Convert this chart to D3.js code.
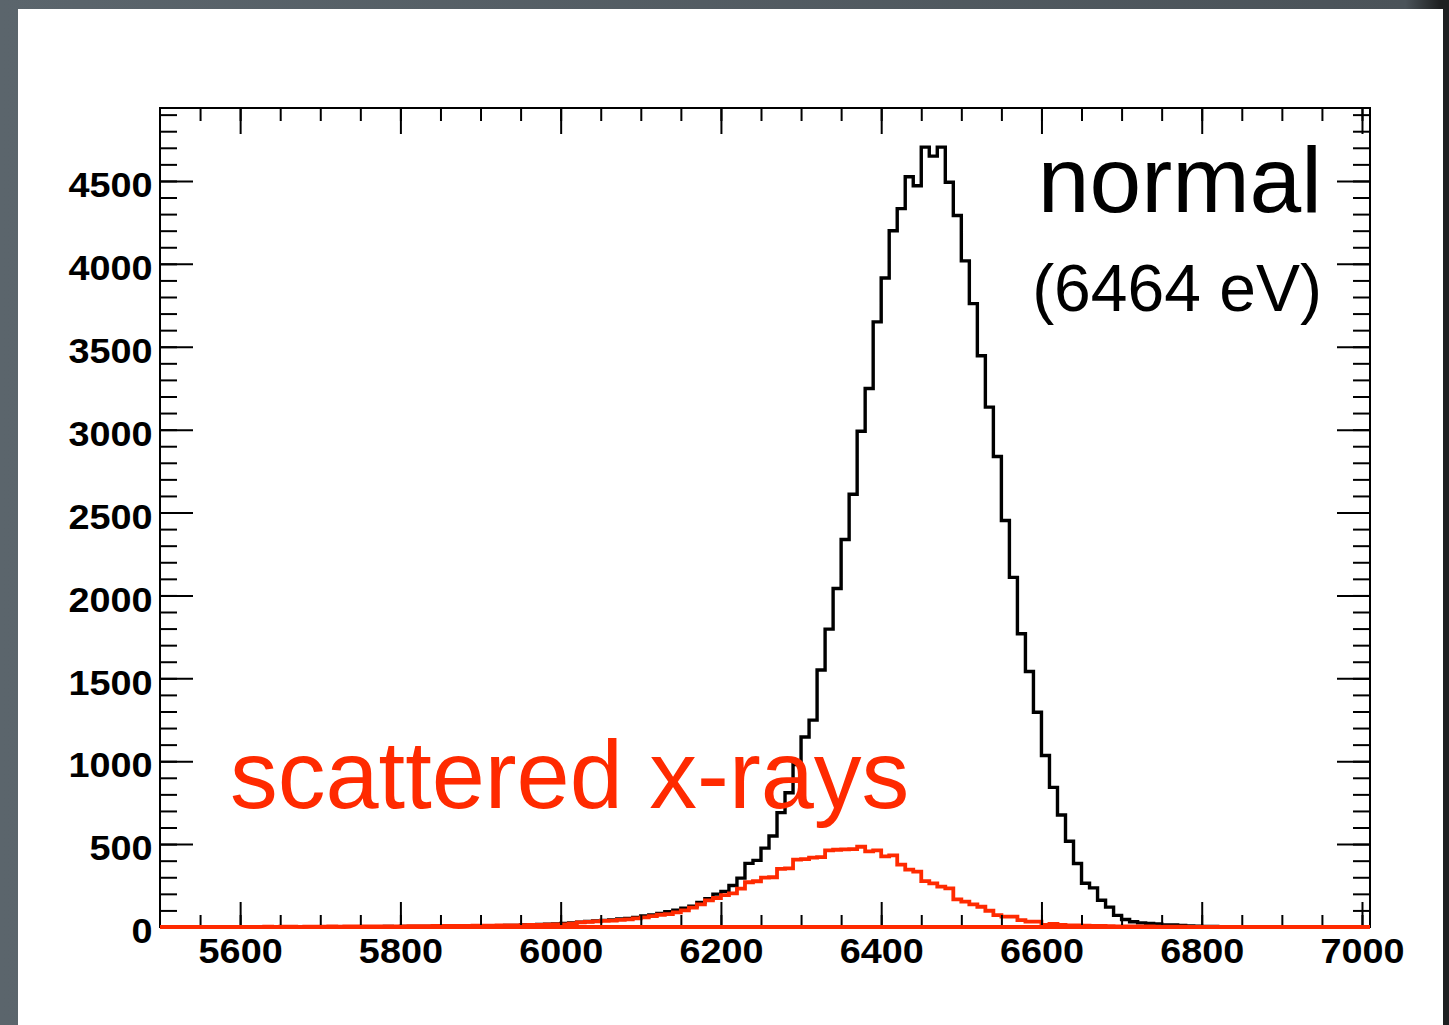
<!DOCTYPE html>
<html>
<head>
<meta charset="utf-8">
<script src="https://cdn.jsdelivr.net/npm/d3@7"></script>
<style>
body { margin: 0; }
svg { display: block; }
</style>
</head>
<body>
<svg width="1449" height="1025"></svg>
<script>
// energy bins: 10 eV wide, from 5500 eV
var binLow = 5500;
var binWidth = 10;

// counts per bin (bins 5500 ... 7000)
var normalCounts = [
    0,0,0,0,0,0,0,0,0,0,
    0,0,0,1,0,0,1,0,1,1,
    1,1,1,2,1,2,2,2,3,2,
    3,3,4,3,4,5,4,5,6,6,
    7,8,8,10,10,12,13,15,17,19,
    21,24,29,33,36,40,42,48,52,58,
    66,72,82,92,102,113,125,148,170,198,
    215,250,295,384,402,476,549,690,810,980,
    1146,1248,1550,1797,2042,2337,2610,2990,3248,3650,
    3915,4200,4333,4525,4471,4704,4650,4704,4492,4292,
    4018,3760,3446,3136,2838,2452,2109,1769,1541,1295,
    1034,842,676,517,383,264,236,161,120,70,
    45,32,25,22,18,12,12,10,6,5,
    4,3,2,1,1,0,1,0,0,0,
    0,0,0,0,0,0,0,0,0,0,
    0
];
var scatteredCounts = [
    0,0,0,0,0,1,1,0,1,1,
    1,1,1,2,1,2,2,1,2,2,
    2,3,2,3,3,3,4,3,4,4,
    4,5,5,5,6,6,6,7,7,8,
    8,8,9,10,10,11,12,12,14,15,
    16,20,28,31,34,37,39,43,46,52,
    58,65,74,78,88,100,117,137,160,175,
    192,203,232,270,276,298,300,350,354,406,
    410,418,422,462,466,468,470,484,456,462,
    426,432,376,346,334,277,263,243,233,167,
    153,137,122,98,72,62,62,42,33,32,
    12,18,12,10,10,8,6,6,5,4,
    4,3,3,3,2,2,2,2,1,1,
    1,1,1,1,0,1,0,0,1,0,
    0,0,0,0,0,0,0,0,0,0,
    0
];

var xTickLabels = [5600, 5800, 6000, 6200, 6400, 6600, 6800, 7000];
var xMinorTicks = d3.range(5550, 7001, 50);
var yTickLabels = [0, 500, 1000, 1500, 2000, 2500, 3000, 3500, 4000, 4500];
var yMinorTicks = d3.range(0, 4901, 100);

var svg = d3.select("svg");
var font = "'Liberation Sans', Arial, Helvetica, sans-serif";

// backdrop + white slide
var grad = svg.append("defs").append("linearGradient").attr("id", "bg");
grad.append("stop").attr("offset", "0%").attr("stop-color", "#5b656c");
grad.append("stop").attr("offset", "97%").attr("stop-color", "#4b5359");
grad.append("stop").attr("offset", "99.4%").attr("stop-color", "#1e2021");
svg.append("rect").attr("width", 1449).attr("height", 1025).attr("fill", "url(#bg)");
svg.append("rect").attr("x", 18).attr("y", 9).attr("width", 1425).attr("height", 1016).attr("fill", "#fff");

var x = d3.scaleLinear().domain([5500, 7010]).range([160, 1370]);
var y = d3.scaleLinear().domain([0, 4940]).range([927, 108]);

function histData(counts) {
    var pts = counts.map(function(c, i) { return [binLow + i * binWidth, c]; });
    pts.push([binLow + counts.length * binWidth, counts[counts.length - 1]]);
    return pts;
}
var step = d3.line()
    .x(function(d) { return x(d[0]); })
    .y(function(d) { return y(d[1]); })
    .curve(d3.curveStepAfter);

svg.append("path")
    .attr("d", step(histData(normalCounts)))
    .attr("fill", "none")
    .attr("stroke", "#000")
    .attr("stroke-width", 3.4);

svg.append("path")
    .attr("d", step(histData(scatteredCounts)))
    .attr("fill", "none")
    .attr("stroke", "#ff2a00")
    .attr("stroke-width", 3.8);

// axes: ticks point inward, frame drawn separately
function styleAxis(g) {
    g.select(".domain").remove();
    g.selectAll("line").attr("stroke", "#000").attr("stroke-width", 2);
    g.selectAll("text")
        .attr("fill", "#000")
        .style("font-family", font)
        .style("font-weight", "bold")
        .style("font-size", "35px");
}

svg.append("g").attr("transform", "translate(0,927)")
    .call(d3.axisBottom(x).tickValues(xMinorTicks).tickSizeInner(-12).tickSizeOuter(0).tickFormat(""))
    .call(styleAxis);
svg.append("g").attr("transform", "translate(0,927)")
    .call(d3.axisBottom(x).tickValues(xTickLabels).tickSizeInner(-25).tickSizeOuter(0).tickPadding(11).tickFormat(d3.format("d")))
    .call(styleAxis)
    .selectAll("text").attr("transform", "scale(1.08,1)");

svg.append("g").attr("transform", "translate(0,108)")
    .call(d3.axisTop(x).tickValues(xMinorTicks).tickSizeInner(-13).tickSizeOuter(0).tickFormat(""))
    .call(styleAxis);
svg.append("g").attr("transform", "translate(0,108)")
    .call(d3.axisTop(x).tickValues(xTickLabels).tickSizeInner(-26).tickSizeOuter(0).tickFormat(""))
    .call(styleAxis);

svg.append("g").attr("transform", "translate(160,0)")
    .call(d3.axisLeft(y).tickValues(yMinorTicks).tickSizeInner(-17).tickSizeOuter(0).tickFormat(""))
    .call(styleAxis);
svg.append("g").attr("transform", "translate(160,0)")
    .call(d3.axisLeft(y).tickValues(yTickLabels).tickSizeInner(-33).tickSizeOuter(0).tickPadding(7).tickFormat(d3.format("d")))
    .call(styleAxis)
    .selectAll("text").attr("dy", "0.45em").attr("transform", "scale(1.08,1)");

svg.append("g").attr("transform", "translate(1370,0)")
    .call(d3.axisRight(y).tickValues(yMinorTicks).tickSizeInner(-17).tickSizeOuter(0).tickFormat(""))
    .call(styleAxis);
svg.append("g").attr("transform", "translate(1370,0)")
    .call(d3.axisRight(y).tickValues(yTickLabels).tickSizeInner(-33).tickSizeOuter(0).tickFormat(""))
    .call(styleAxis);

svg.append("rect")
    .attr("x", 160).attr("y", 108)
    .attr("width", 1210).attr("height", 819)
    .attr("fill", "none")
    .attr("stroke", "#000")
    .attr("stroke-width", 2);

// redraw red baseline over the frame, as in the original
svg.append("line")
    .attr("x1", x(5500)).attr("x2", x(7010))
    .attr("y1", y(0)).attr("y2", y(0))
    .attr("stroke", "#ff2a00").attr("stroke-width", 3.8);

// annotations
svg.append("text")
    .attr("x", 1322).attr("y", 212)
    .attr("text-anchor", "end")
    .style("font-family", font).style("font-size", "93px")
    .text("normal");
svg.append("text")
    .attr("x", 1322).attr("y", 311)
    .attr("text-anchor", "end")
    .style("font-family", font).style("font-size", "66px")
    .text("(6464 eV)");
svg.append("text")
    .attr("x", 230).attr("y", 808)
    .attr("fill", "#ff2a00")
    .style("font-family", font).style("font-size", "95.5px")
    .text("scattered x-rays");
</script>
</body>
</html>
